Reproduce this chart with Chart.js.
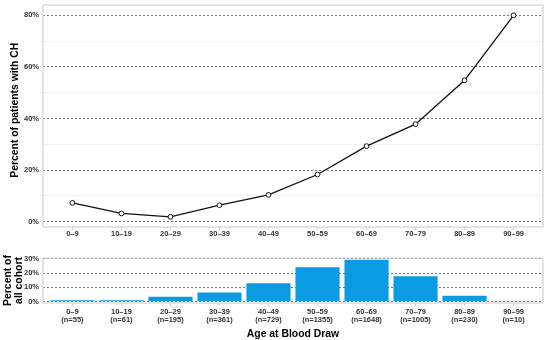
<!DOCTYPE html>
<html>
<head>
<meta charset="utf-8">
<script src="https://cdn.jsdelivr.net/npm/chart.js@4"></script>
<style>
  html, body { margin: 0; padding: 0; background: #fff; }
  #wrap { position: relative; width: 554px; height: 340px; }
  canvas { position: absolute; left: 0; }
</style>
</head>
<body>
<div id="wrap">
  <canvas id="topChart" width="554" height="245" style="top:0"></canvas>
  <canvas id="bottomChart" width="554" height="95" style="top:245px"></canvas>
</div>
<script>
// age groups shared by both panels
const ageGroups = ['0–9', '10–19', '20–29', '30–39', '40–49', '50–59', '60–69', '70–79', '80–89', '90–99'];
// percent of patients with CH in each age group
const chPercent = [7.3, 3.2, 1.9, 6.4, 10.4, 18.3, 29.3, 37.8, 54.8, 80.0];
// cohort size per group and share of whole cohort
const cohortN = [55, 61, 195, 361, 729, 1355, 1648, 1005, 230, 10];
const cohortPercent = [1.0, 1.1, 3.5, 6.4, 12.9, 24.0, 29.2, 17.8, 4.1, 0.2];
const topTicks = [0, 10, 20, 30, 40, 50, 60, 70, 80];
const bottomTicks = [0, 5, 10, 15, 20, 25, 30];

const FONT = '"Liberation Sans", Arial, Helvetica, sans-serif';
Chart.defaults.font.family = FONT;
Chart.defaults.color = '#333';

// light grey frame round the plot panel
const panelFrame = {
    id: 'panelFrame',
    beforeDatasetsDraw(chart) {
        const a = chart.chartArea;
        const c = chart.ctx;
        c.save();
        c.strokeStyle = '#d2d2d2';
        c.lineWidth = 1.2;
        c.strokeRect(a.left, a.top, a.right - a.left, a.bottom - a.top);
        c.restore();
    }
};

function xScale(labelFn, height, pad, extra) {
    return Object.assign({
        type: 'linear',
        offset: false,
        min: -0.6,
        max: 9.6,
        afterBuildTicks: s => { s.ticks = ageGroups.map((g, i) => ({ value: i })); },
        afterFit: s => {
            s.height = height;
            s.paddingLeft = 0;
            s.paddingRight = 0;
        },
        ticks: {
            autoSkip: false,
            maxRotation: 0,
            padding: pad,
            color: '#333',
            font: { size: 7.5, weight: 'bold', lineHeight: 1.1 },
            callback: labelFn
        },
        grid: {
            offset: false,
            drawOnChartArea: false,
            drawTicks: true,
            tickLength: 3,
            tickColor: '#cfcfcf'
        },
        border: { display: false }
    }, extra);
}

function yScale(min, max, ticks, major, title, titlePad) {
    return {
        min: min,
        max: max,
        afterBuildTicks: s => { s.ticks = ticks.map(v => ({ value: v })); },
        afterFit: s => {
            s.width = 43;
            s.paddingTop = 0;
            s.paddingBottom = 0;
        },
        ticks: {
            padding: 4,
            color: '#333',
            font: { size: 7.5, weight: 'bold' },
            callback: v => (v % major === 0 ? v + '%' : '')
        },
        grid: {
            drawTicks: false,
            lineWidth: 0.9,
            color: ctx => (ctx.tick && ctx.tick.value % major === 0 ? '#666' : '#f0f0f0')
        },
        border: {
            display: false,
            dash: ctx => (ctx.tick && ctx.tick.value % major === 0 ? [2, 2] : [])
        },
        title: {
            display: true,
            text: title,
            color: '#000',
            font: { size: 10.4, weight: 'bold', lineHeight: 1.1 },
            padding: { top: titlePad, bottom: 0 }
        }
    };
}

new Chart(document.getElementById('topChart'), {
    type: 'line',
    data: {
        datasets: [{
            data: chPercent.map((v, i) => ({ x: i, y: v })),
            borderColor: '#111',
            borderWidth: 1.3,
            pointRadius: 2.4,
            pointBorderWidth: 1,
            pointBackgroundColor: '#fff',
            pointBorderColor: '#111',
            tension: 0
        }]
    },
    options: {
        responsive: false,
        animation: false,
        devicePixelRatio: 1,
        layout: { padding: { top: 4, right: 11, left: 0, bottom: 0 } },
        plugins: { legend: { display: false }, tooltip: { enabled: false } },
        scales: {
            x: xScale(v => ageGroups[v], 18, 0, {}),
            y: yScale(-2.05, 84, topTicks, 20, '    Percent of patients with CH', 9)
        }
    },
    plugins: [panelFrame]
});

new Chart(document.getElementById('bottomChart'), {
    type: 'bar',
    data: {
        datasets: [{
            data: cohortPercent.map((v, i) => ({ x: i, y: v })),
            backgroundColor: '#0a9be3',
            borderWidth: 0,
            barPercentage: 0.9,
            categoryPercentage: 1
        }]
    },
    options: {
        responsive: false,
        animation: false,
        devicePixelRatio: 1,
        layout: { padding: { top: 13, right: 11, left: 0, bottom: 0 } },
        plugins: { legend: { display: false }, tooltip: { enabled: false } },
        scales: {
            x: xScale(v => [ageGroups[v], '(n=' + cohortN[v] + ')'], 37, 2, {
                title: {
                    display: true,
                    text: 'Age at Blood Draw',
                    color: '#000',
                    font: { size: 10.4, weight: 'bold' },
                    padding: { top: 0, bottom: 0 }
                }
            }),
            y: yScale(-0.9, 30.5, bottomTicks, 10, ['Percent of', 'all cohort'], 2)
        }
    },
    plugins: [panelFrame]
});
</script>
</body>
</html>
